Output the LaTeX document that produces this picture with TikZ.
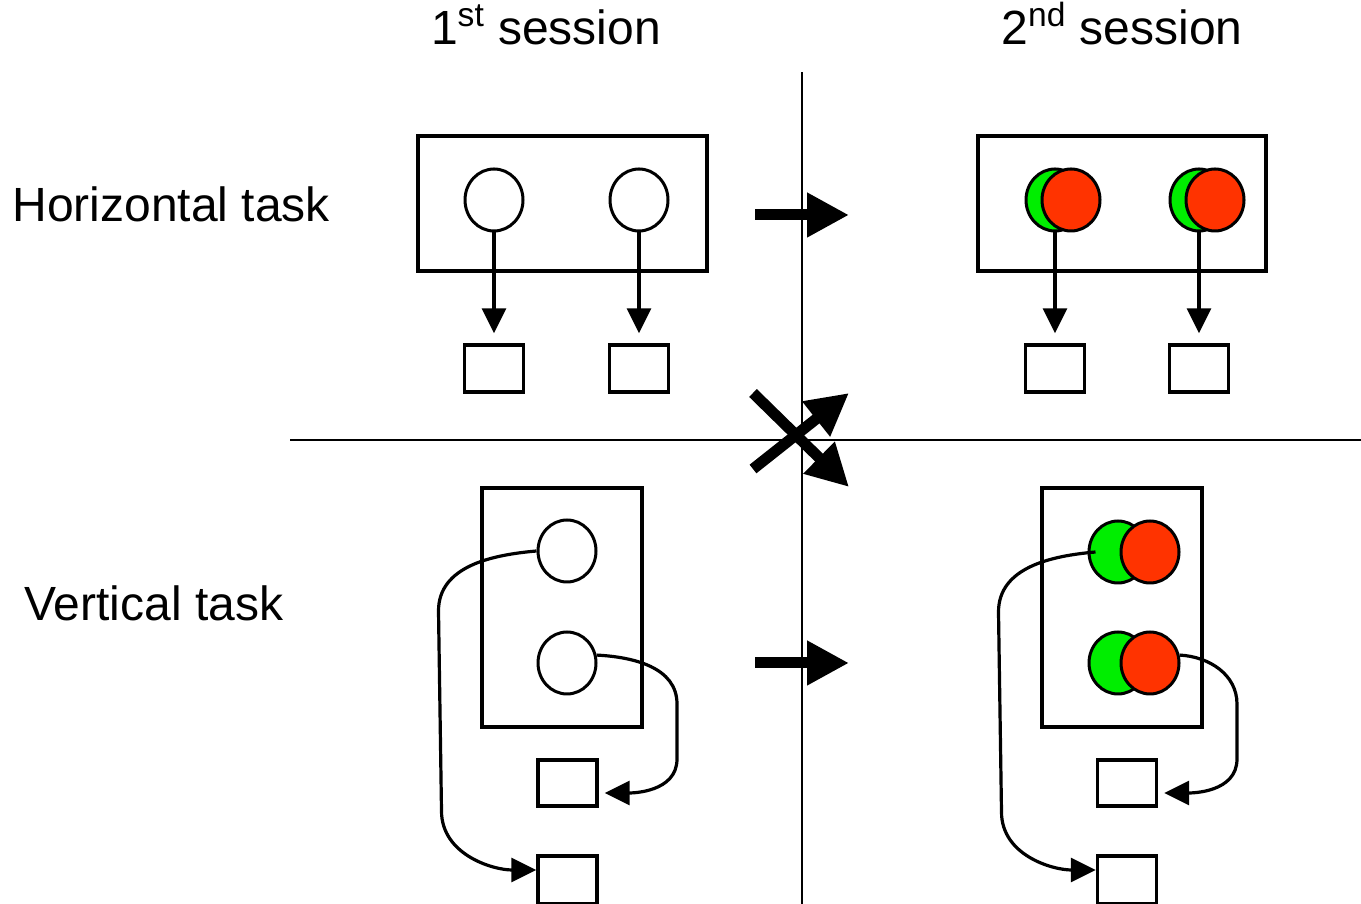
\documentclass[tikz,border=0pt]{standalone}
\usepackage{fontspec}
\setmainfont{Liberation Sans}
\usetikzlibrary{arrows.meta,shapes.geometric}
\definecolor{dotgreen}{RGB}{0,238,0}
\definecolor{dotred}{RGB}{255,51,0}

\begin{document}
\begin{tikzpicture}[x=0.5pt,y=0.5pt,
    frame/.style={draw,line width=2pt},
    dot/.style={ellipse,draw,line width=1.5pt,fill=white,minimum width=29pt,minimum height=31pt,inner sep=0pt},
    answer/.style={rectangle,draw,line width=1.7pt,fill=white,minimum width=29.5pt,minimum height=23.5pt,inner sep=0pt},
    link/.style={line width=1.6pt,-{Triangle[length=12.5pt,width=12pt]}},
    bigarrow/.style={line width=5.5pt,-{Triangle[length=21pt,width=21pt]}},
    heading/.style={font=\fontsize{24}{28}\selectfont,inner sep=0pt}]
    \useasboundingbox (0,0) rectangle (1361,904);
    % dividers
    \draw[line width=1pt] (802,0) -- (802,832);
    \draw[line width=1pt] (290,464) -- (1361,464);
    % headings
    \node[heading,anchor=base] (s1) at (546,859) {1\textsuperscript{st} session};
    \node[heading,anchor=base] (s2) at (1122,859) {2\textsuperscript{nd} session};
    \node[heading,anchor=base west] (th) at (12,682) {Horizontal task};
    \node[heading,anchor=base west] (tv) at (24,283) {Vertical task};
    % horizontal task, 1st session
    \draw[frame] (418,633) rectangle (707,768);
    \node[dot] (h1) at (494,704) {};
    \node[dot] (h2) at (639,704) {};
    \node[answer] (hb1) at (494,535.5) {};
    \node[answer] (hb2) at (639,535.5) {};
    \draw[link,shorten >=5pt] (h1) -- (hb1);
    \draw[link,shorten >=5pt] (h2) -- (hb2);
    % horizontal task, 2nd session
    \draw[frame] (978,633) rectangle (1266,768);
    \node[dot,fill=dotgreen] (hg1) at (1055,704) {};
    \node[dot,fill=dotred] (hr1) at (1071,704) {};
    \node[dot,fill=dotgreen] (hg2) at (1199,704) {};
    \node[dot,fill=dotred] (hr2) at (1215,704) {};
    \node[answer] (hb3) at (1055,535.5) {};
    \node[answer] (hb4) at (1199,535.5) {};
    \draw[link,shorten >=5pt] (hg1.south) -- (hb3.north);
    \draw[link,shorten >=5pt] (hg2.south) -- (hb4.north);
    % session arrows
    \coordinate (ha) at (755,689); \coordinate (hb) at (849,689);
    \coordinate (va) at (755,241); \coordinate (vb) at (849,241);
    \coordinate (xa) at (753,435); \coordinate (xb) at (849,511);
    \coordinate (xc) at (753,511); \coordinate (xd) at (849,417);
    \draw[bigarrow] (ha) -- (hb);
    \draw[bigarrow] (va) -- (vb);
    \draw[bigarrow] (xa) -- (xb);
    \draw[bigarrow] (xc) -- (xd);
    % vertical task, 1st session
    \draw[frame] (482,177) rectangle (642,416);
    \node[dot] (v1) at (567,353) {};
    \node[dot] (v2) at (567,241) {};
    \node[answer,minimum height=23pt] (vb1) at (567.5,121) {};
    \node[answer,minimum height=24pt] (vb2) at (567.5,24) {};
    \draw[link] (v1.west) to[out=185,in=90] ++(-98,-60) -- ++(3,-200) to[out=-90,in=180] ([yshift=5pt]vb2.west);
    \draw[link,shorten >=3pt] (v2.15) to[out=-3,in=90] (677,200) -- (677,145) to[out=-90,in=0] ([yshift=-5pt]vb1.east);
    % vertical task, 2nd session
    \draw[frame] (1042,177) rectangle (1202,416);
    \node[dot,fill=dotgreen] (vg1) at (1118,352) {};
    \node[dot,fill=dotred] (vr1) at (1150,352) {};
    \node[dot,fill=dotgreen] (vg2) at (1118,241) {};
    \node[dot,fill=dotred] (vr2) at (1150,241) {};
    \node[answer,minimum height=23pt] (vb3) at (1127,121) {};
    \node[answer,minimum height=24pt] (vb4) at (1127,24) {};
    \draw[link] ([xshift=4pt]vg1.west) to[out=185,in=90] ++(-97,-60) -- ++(3,-200) to[out=-90,in=180] ([yshift=5pt]vb4.west);
    \draw[link,shorten >=3pt] (vr2.15) to[out=-3,in=90] (1237,200) -- (1237,145) to[out=-90,in=0] ([yshift=-5pt]vb3.east);
\end{tikzpicture}
\end{document}
